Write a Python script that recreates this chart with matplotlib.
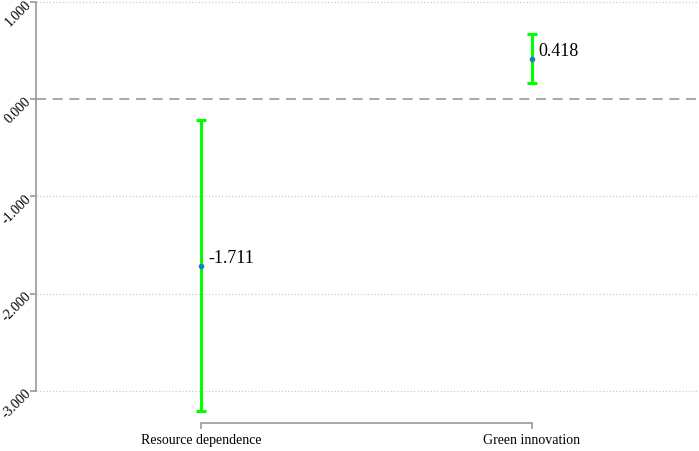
import matplotlib
matplotlib.use("Agg")
import matplotlib.pyplot as plt

# estimates
categories = ["Resource dependence", "Green innovation"]
estimates = [-1.711, 0.418]
ci_low = [-3.207, 0.164]
ci_high = [-0.216, 0.668]
y_ticks = [1.0, 0.0, -1.0, -2.0, -3.0]

plt.rcParams["font.family"] = ["Liberation Serif", "DejaVu Serif"]

fig = plt.figure(figsize=(6.99, 4.52), dpi=100)
ax = fig.add_axes([36 / 699, 28 / 452, 1 - 36 / 699, 1 - 28 / 452])

xpos = list(range(1, len(categories) + 1))
for x, est, lo, hi in zip(xpos, estimates, ci_low, ci_high):
    ax.errorbar(x, est, yerr=[[est - lo], [hi - est]], fmt="none",
                ecolor="#00ff00", elinewidth=2.2, capsize=3.5, capthick=2.2, zorder=3)
    ax.plot(x, est, "o", color="#1a7fb8", markersize=3, zorder=4)
    ax.text(x + 0.02, est, f"{est:.3f}", fontsize=13, va="bottom", ha="left")

# gridlines
for yv in y_ticks:
    if yv == 0:
        ax.axhline(0, color="#999999", linestyle=(0, (6, 4)), linewidth=1.2, zorder=1)
    else:
        ax.axhline(yv, color="#cccccc", linestyle=":", linewidth=0.9, zorder=1)

ax.set_xlim(0.5, 2.505)
ax.set_ylim(-3.33, 1.03)

ax.set_xticks(xpos)
ax.set_xticklabels(categories, fontsize=10)
ax.set_yticks(y_ticks)
ax.set_yticklabels([f"{v:.3f}" for v in y_ticks], fontsize=10, rotation=45,
                   ha="right", va="center", rotation_mode="anchor")

for side in ["top", "right"]:
    ax.spines[side].set_visible(False)
ax.spines["left"].set_bounds(-3, 1)
ax.spines["bottom"].set_bounds(1, 2)
for side in ["left", "bottom"]:
    ax.spines[side].set_color("#999999")
    ax.spines[side].set_linewidth(1.2)
ax.tick_params(colors="#999999", length=4.5, width=1.2, labelcolor="black")
ax.tick_params(axis="y", pad=0.5)
ax.tick_params(axis="x", pad=2.5)

fig.savefig("out.png", dpi=100)
